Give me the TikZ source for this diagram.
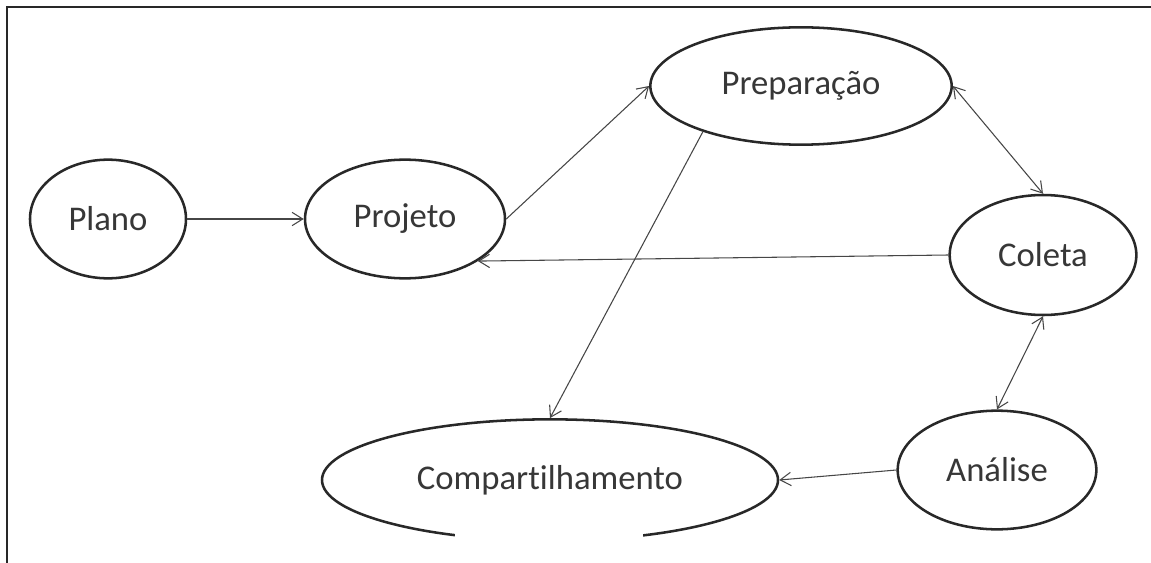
\documentclass[tikz,border=0pt]{standalone}
\usepackage{fontspec}
\setmainfont{Carlito}[Ligatures=NoCommon]
\usepackage{tikz}
\usetikzlibrary{shapes.geometric,arrows.meta}

\definecolor{framegray}{RGB}{40,40,40}
\definecolor{linegray}{RGB}{70,70,70}
\definecolor{textgray}{RGB}{55,55,55}

\tikzset{
	etapa/.style={ellipse, draw=framegray, line width=1.9pt, fill=white, inner sep=0pt, text=textgray, font=\fontsize{26}{30}\selectfont},
	liga/.style={draw=linegray, line width=0.8pt, -{Straight Barb[length=8pt,width=10pt]}},
	ligadupla/.style={draw=linegray, line width=0.8pt, {Straight Barb[length=8pt,width=10pt]}-{Straight Barb[length=8pt,width=10pt]}}
}

\begin{document}
\begin{tikzpicture}[x=0.75pt,y=0.75pt,yscale=-1,xscale=1]
		\useasboundingbox (0,0) rectangle (1151,563);
		
		%Straight Lines [id:frame]
		\draw [color=framegray, line width=1.5pt] (1151,7) -- (7,7) -- (7,563) ;
		
		%Shape: Ellipse [id:plano]
		\node [etapa, minimum width=117pt, minimum height=89pt] (plano) at (108,219) {Plano};
		%Shape: Ellipse [id:projeto]
		\node [etapa, minimum width=150pt, minimum height=89pt] (projeto) at (405,219) {Projeto};
		%Shape: Ellipse [id:preparacao]
		\node [etapa, minimum width=226pt, minimum height=88pt] (prep) at (801,86) {Preparação};
		%Shape: Ellipse [id:coleta]
		\node [etapa, minimum width=140pt, minimum height=90pt] (coleta) at (1043,255) {Coleta};
		%Shape: Ellipse [id:analise]
		\node [etapa, minimum width=149pt, minimum height=89pt] (analise) at (997,470) {Análise};
		%Shape: Ellipse [id:compartilhamento]
		\node [etapa, minimum width=342pt, minimum height=91pt] (comp) at (550,480) {Compartilhamento};
		%Shape: Rectangle [id:corte]
		\fill [white] (455,532) rectangle (643,548) ;
		
		%Straight Lines [id:setas]
		\draw [liga] (plano.east) -- (projeto.west) ;
		\draw [liga] (projeto.east) -- (prep.west) ;
		\draw [ligadupla] (prep.east) -- (coleta.north) ;
		\draw [liga] (coleta.west) -- (projeto.-30) ;
		\draw [liga] (prep.-155) -- (comp.north) ;
		\draw [ligadupla] (coleta.south) -- (analise.north) ;
		\draw [liga] (analise.west) -- (comp.east) ;
	\end{tikzpicture}
\end{document}
